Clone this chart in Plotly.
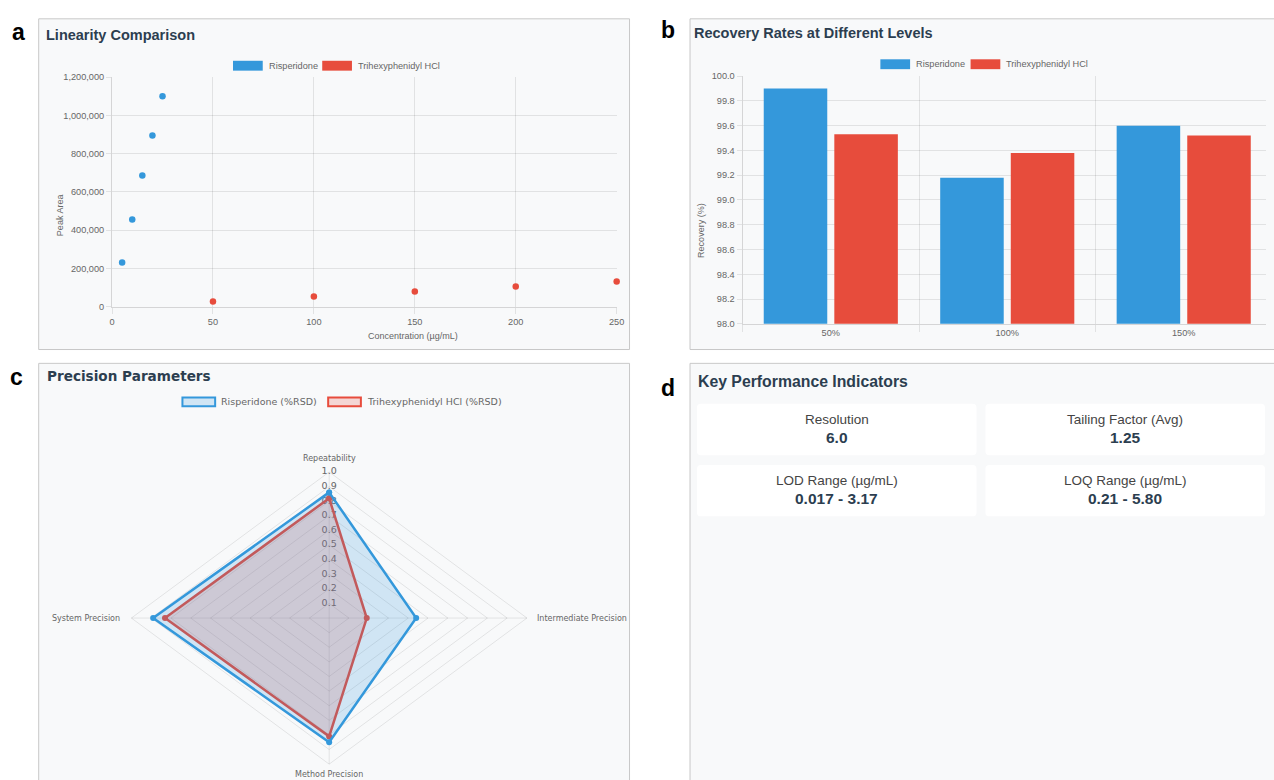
import numpy as np
import plotly.graph_objects as go

W, H = 1274, 780

# ---------------- data ----------------
series_names = ["Risperidone", "Trihexyphenidyl HCl"]

risp_conc = [5, 10, 15, 20, 25]
risp_area = [230000, 455000, 685000, 895000, 1100000]
trih_conc = [50, 100, 150, 200, 250]
trih_area = [26000, 53000, 79000, 105000, 131000]

recovery_levels = ["50%", "100%", "150%"]
recovery_risp = [99.90, 99.18, 99.60]
recovery_trih = [99.53, 99.38, 99.52]

precision_params = ["Repeatability", "Intermediate Precision", "Method Precision", "System Precision"]
rsd_risp = [0.86, 0.44, 0.85, 0.89]
rsd_trih = [0.82, 0.19, 0.81, 0.83]
rsd_ticks = [0.1, 0.2, 0.3, 0.4, 0.5, 0.6, 0.7, 0.8, 0.9, 1.0]

kpi_labels = ["Resolution", "Tailing Factor (Avg)", "LOD Range (µg/mL)", "LOQ Range (µg/mL)"]
kpi_values = ["6.0", "1.25", "0.017 - 3.17", "0.21 - 5.80"]

# ---------------- style ----------------
BLUE = "#3498db"
RED = "#e74c3c"
BLUE_FILL = "rgba(52,152,219,0.2)"
RED_FILL = "rgba(231,76,60,0.2)"
PANEL_BG = "#f8f9fa"
PANEL_BORDER = "#c8c8c8"
GRID = "rgba(0,0,0,0.09)"
AXIS_LINE = "rgba(0,0,0,0.14)"
TICK_FONT = dict(family="Liberation Sans, Arial, sans-serif", size=9.2, color="#666666")
SANS = "Liberation Sans, Arial, sans-serif"
WIDE = "DejaVu Sans, Verdana, sans-serif"
TITLE_COLOR = "#2c3e50"


def fx(x):
    return x / W


def fy(y):
    return 1 - y / H


fig = go.Figure()

# ---------------- (a) linearity scatter ----------------
fig.add_trace(go.Scatter(
    x=risp_conc, y=risp_area, mode="markers", name=series_names[0],
    marker=dict(color=BLUE, size=6.5), cliponaxis=False, showlegend=False,
    xaxis="x", yaxis="y"))
fig.add_trace(go.Scatter(
    x=trih_conc, y=trih_area, mode="markers", name=series_names[1],
    marker=dict(color=RED, size=6.5), cliponaxis=False, showlegend=False,
    xaxis="x", yaxis="y"))

# ---------------- (b) recovery bars ----------------
fig.add_trace(go.Bar(
    x=recovery_levels, y=recovery_risp, name=series_names[0],
    marker=dict(color=BLUE, line=dict(width=0)), showlegend=False,
    xaxis="x2", yaxis="y2"))
fig.add_trace(go.Bar(
    x=recovery_levels, y=recovery_trih, name=series_names[1],
    marker=dict(color=RED, line=dict(width=0)), showlegend=False,
    xaxis="x2", yaxis="y2"))

# ---------------- (c) precision radar ----------------
n_axes = len(precision_params)
angles = np.arange(n_axes) * 2 * np.pi / n_axes  # clockwise from the top


def radar_xy(values):
    r = np.asarray(values, dtype=float)
    xs = r * np.sin(angles)
    ys = r * np.cos(angles)
    return np.append(xs, xs[0]), np.append(ys, ys[0])


# web of concentric diamonds
gx, gy = [], []
for lvl in rsd_ticks:
    xs, ys = radar_xy([lvl] * n_axes)
    gx += list(xs) + [None]
    gy += list(ys) + [None]
fig.add_trace(go.Scatter(x=gx, y=gy, mode="lines", line=dict(color=GRID, width=1),
                         hoverinfo="skip", showlegend=False, cliponaxis=False,
                         xaxis="x3", yaxis="y3"))
# spokes
sx, sy = [], []
for a in angles:
    sx += [0, max(rsd_ticks) * np.sin(a), None]
    sy += [0, max(rsd_ticks) * np.cos(a), None]
fig.add_trace(go.Scatter(x=sx, y=sy, mode="lines", line=dict(color=GRID, width=1),
                         hoverinfo="skip", showlegend=False, cliponaxis=False,
                         xaxis="x3", yaxis="y3"))
# radial tick labels
fig.add_trace(go.Scatter(
    x=[0] * len(rsd_ticks), y=rsd_ticks, mode="text",
    text=[f"{t:.1f}" for t in rsd_ticks], textposition="middle center",
    textfont=dict(family=WIDE, size=9.5, color="#666666"),
    hoverinfo="skip", showlegend=False, cliponaxis=False, xaxis="x3", yaxis="y3"))

tx, ty = radar_xy(rsd_trih)
fig.add_trace(go.Scatter(
    x=tx, y=ty, mode="lines+markers", name=series_names[1] + " (%RSD)",
    fill="toself", fillcolor=RED_FILL, line=dict(color=RED, width=2.5),
    marker=dict(color=RED, size=6), showlegend=False, cliponaxis=False,
    xaxis="x3", yaxis="y3"))
rx, ry = radar_xy(rsd_risp)
fig.add_trace(go.Scatter(
    x=rx, y=ry, mode="lines+markers", name=series_names[0] + " (%RSD)",
    fill="toself", fillcolor=BLUE_FILL, line=dict(color=BLUE, width=2.5),
    marker=dict(color=BLUE, size=6), showlegend=False, cliponaxis=False,
    xaxis="x3", yaxis="y3"))

# ---------------- axes ----------------
common = dict(showgrid=True, gridcolor=GRID, gridwidth=1, zeroline=False,
              showline=True, linecolor=AXIS_LINE, linewidth=1,
              ticks="outside", tickcolor=GRID, tickfont=TICK_FONT)

# radar geometry (pixels): centre and radius of the 1.0 ring
rc_x, rc_y, r_h, r_v = 329, 621, 199.5, 148
cat_w = (1102 - 924)  # width of one bar category in px

fig.update_layout(
    width=W, height=H,
    margin=dict(l=0, r=0, t=0, b=0),
    paper_bgcolor="white", plot_bgcolor="rgba(0,0,0,0)",
    barmode="group", bargap=0.2, bargroupgap=0.1,
    xaxis=dict(domain=[fx(110), fx(619)], anchor="y", range=[0, 250], dtick=50,
               ticklen=6, **common),
    yaxis=dict(domain=[fy(305.5), fy(73)], anchor="x", range=[0, 1200000],
               dtick=200000, tickformat=",", ticklen=5, **common),
    xaxis2=dict(domain=[fx(746), 1.0], anchor="y2", type="category",
                range=[-0.5, -0.5 + (W - 746) / cat_w], tickson="boundaries",
                ticklen=7, **common),
    yaxis2=dict(domain=[fy(323), fy(72)], anchor="x2", range=[98, 100], dtick=0.2,
                tickformat=".1f", ticklen=5, **common),
    xaxis3=dict(domain=[fx(100), fx(558)], anchor="y3",
                range=[(100 - rc_x) / r_h, (558 - rc_x) / r_h], visible=False),
    yaxis3=dict(domain=[0, fy(458)], anchor="x3",
                range=[(rc_y - H) / r_v, (rc_y - 458) / r_v], visible=False),
)

shapes = []
annotations = []

# panel boxes
for (x0, y0, x1, y1) in [(36, 14, 632, 349), (693, 14, 1290, 349),
                         (36, 363, 632, 800), (693, 363, 1290, 800)]:
    shapes.append(dict(type="rect", xref="paper", yref="paper", layer="below",
                       x0=fx(x0), x1=fx(x1), y0=fy(y1), y1=fy(y0),
                       fillcolor=PANEL_BG, line=dict(color=PANEL_BORDER, width=1)))

# panel letters
for letter, (lx, ly) in zip("abcd", [(16, 27), (671, 25), (14, 377), (671, 388)]):
    annotations.append(dict(text=f"<b>{letter}</b>", x=fx(lx), y=fy(ly), xref="paper",
                            yref="paper", showarrow=False, xanchor="center", yanchor="middle",
                            font=dict(family=SANS, size=23, color="black")))

# panel titles
for title, (tx0, ty0), fam, size in [
        ("Linearity Comparison", (41, 30), SANS, 14.5),
        ("Recovery Rates at Different Levels", (695, 28), SANS, 14.5),
        ("Precision Parameters", (42, 376), WIDE, 13.6),
        ("Key Performance Indicators", (699, 381), SANS, 15.8)]:
    annotations.append(dict(text=f"<b>{title}</b>", x=fx(tx0), y=fy(ty0), xref="paper",
                            yref="paper", showarrow=False, xanchor="left", yanchor="middle",
                            font=dict(family=fam, size=size, color=TITLE_COLOR)))


def legend_items(items, y_mid, box_h, font, outline=False):
    for (bx0, bx1, colr, fill, label) in items:
        shapes.append(dict(type="rect", xref="paper", yref="paper",
                           x0=fx(bx0), x1=fx(bx1), y0=fy(y_mid + box_h / 2), y1=fy(y_mid - box_h / 2),
                           fillcolor=fill if outline else colr,
                           line=dict(color=colr, width=2 if outline else 0)))
        annotations.append(dict(text=label, x=fx(bx1 + 4), y=fy(y_mid), xref="paper",
                                yref="paper", showarrow=False, xanchor="left", yanchor="middle",
                                font=font))


leg_font = dict(family=SANS, size=9.2, color="#666666")
legend_items([(232, 262, BLUE, None, series_names[0]),
              (322, 352, RED, None, series_names[1])], 61.5, 10, leg_font)
legend_items([(885, 915, BLUE, None, series_names[0]),
              (976, 1006, RED, None, series_names[1])], 60, 10, leg_font)
legend_items([(181, 214, BLUE, BLUE_FILL, series_names[0] + " (%RSD)"),
              (328, 361, RED, RED_FILL, series_names[1] + " (%RSD)")], 402, 9,
             dict(family=WIDE, size=9.5, color="#666666"), outline=True)

# axis titles
ax_font = dict(family=SANS, size=9, color="#666666")
annotations += [
    dict(text="Peak Area", x=fx(50), y=fy(190), xref="paper", yref="paper", textangle=-90,
         showarrow=False, font=ax_font),
    dict(text="Concentration (µg/mL)", x=fx(366), y=fy(335), xref="paper", yref="paper",
         showarrow=False, font=ax_font),
    dict(text="Recovery (%)", x=fx(704), y=fy(198), xref="paper", yref="paper", textangle=-90,
         showarrow=False, font=ax_font),
]

# radar point labels
pl_font = dict(family=WIDE, size=8, color="#666666")
for name, a in zip(precision_params, angles):
    sx_, sy_ = float(np.sin(a)), float(np.cos(a))
    ann = dict(text=name, x=sx_, y=sy_, xref="x3", yref="y3", showarrow=False, font=pl_font)
    if abs(sy_) > 0.5:
        ann.update(xanchor="center", yanchor="bottom" if sy_ > 0 else "top",
                   yshift=7 if sy_ > 0 else -4)
    else:
        ann.update(yanchor="middle", xanchor="left" if sx_ > 0 else "right",
                   xshift=8 if sx_ > 0 else -9)
    annotations.append(ann)

# KPI cards
card_cols = [(700, 982), (991, 1273)]
card_rows = [(404, 456), (466, 518)]
rad = 4
for i, (lab, val) in enumerate(zip(kpi_labels, kpi_values)):
    cx0, cx1 = card_cols[i % 2]
    cy0, cy1 = card_rows[i // 2]
    rx_, ry_ = rad / W, rad / H
    X0, X1, Y0, Y1 = fx(cx0), fx(cx1), fy(cy1), fy(cy0)
    path = (f"M {X0 + rx_},{Y0} L {X1 - rx_},{Y0} Q {X1},{Y0} {X1},{Y0 + ry_} "
            f"L {X1},{Y1 - ry_} Q {X1},{Y1} {X1 - rx_},{Y1} L {X0 + rx_},{Y1} "
            f"Q {X0},{Y1} {X0},{Y1 - ry_} L {X0},{Y0 + ry_} Q {X0},{Y0} {X0 + rx_},{Y0} Z")
    shapes.append(dict(type="path", path=path, xref="paper", yref="paper",
                       fillcolor="white", line=dict(width=0)))
    mid = (cx0 + cx1) / 2
    annotations.append(dict(text=lab, x=fx(mid), y=fy(cy0 + 16), xref="paper", yref="paper",
                            showarrow=False, xanchor="center", yanchor="middle",
                            font=dict(family=SANS, size=13.5, color="#444444")))
    annotations.append(dict(text=f"<b>{val}</b>", x=fx(mid), y=fy(cy0 + 34), xref="paper",
                            yref="paper", showarrow=False, xanchor="center", yanchor="middle",
                            font=dict(family=SANS, size=15.5, color=TITLE_COLOR)))

fig.update_layout(shapes=shapes, annotations=annotations)
fig.write_html("out.html")
